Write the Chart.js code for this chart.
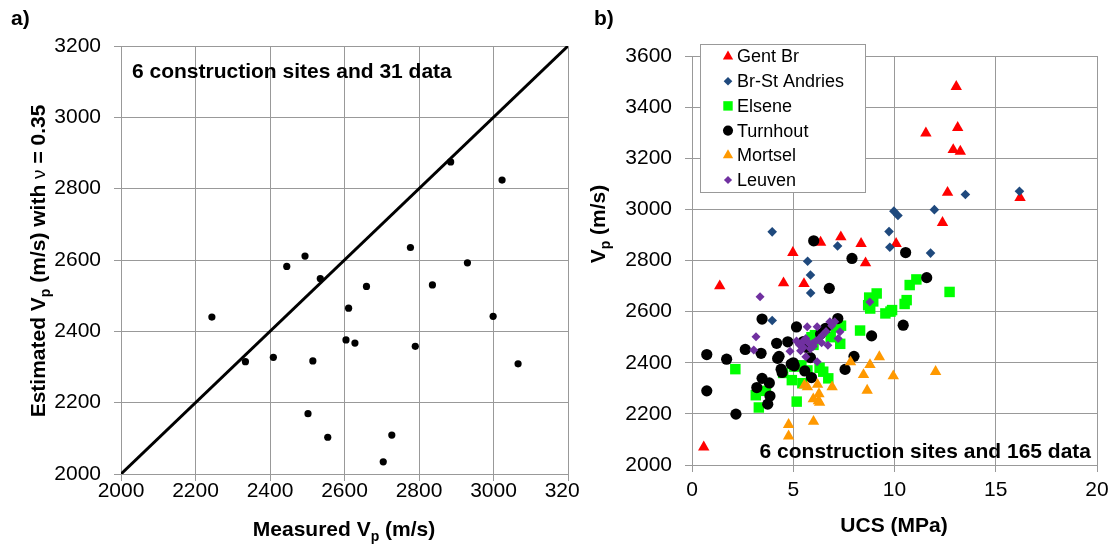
<!DOCTYPE html>
<html>
<head>
<meta charset="utf-8">
<script src="https://cdn.jsdelivr.net/npm/chart.js@4.4.1/dist/chart.umd.min.js"></script>
<style>
  html, body { margin: 0; padding: 0; background: #fff; }
  #wrap { position: relative; width: 1117px; height: 544px; overflow: hidden; }
  #boxA { position: absolute; left: 0; top: 0; width: 580px; height: 544px; overflow: hidden; }
  #boxB { position: absolute; left: 580px; top: 0; width: 537px; height: 544px; }
</style>
</head>
<body>
<div id="wrap">
  <div id="boxA"><canvas id="chartA" width="620" height="544"></canvas></div>
  <div id="boxB"><canvas id="chartB" width="537" height="544"></canvas></div>
</div>
<script>
// panel a) measured vs estimated Vp
var measuredVp  = [2244, 2334, 2409, 2445, 2494, 2535, 2502, 2515, 2555, 2604, 2611, 2628, 2659, 2704, 2727, 2777, 2790, 2836, 2885, 2930, 2999, 3023, 3066];
var estimatedVp = [2440, 2315, 2327, 2582, 2611, 2548, 2169, 2317, 2103, 2376, 2465, 2367, 2526, 2034, 2109, 2635, 2358, 2530, 2875, 2592, 2442, 2824, 2309];
var lineX = [2000, 3200];
var lineY = [2000, 3200];
var ticksA = [2000, 2200, 2400, 2600, 2800, 3000, 3200];

// panel b) UCS vs Vp per site
var siteNames = ['Gent Br', 'Br-St Andries', 'Elsene', 'Turnhout', 'Mortsel', 'Leuven'];
var gentUcs = [13.05, 11.55, 13.12, 12.9, 13.25, 12.62, 16.2, 12.37, 10.08, 8.35, 8.57, 7.35, 6.35, 4.98, 4.52, 5.53, 1.37, 0.58];
var gentVp  = [3480, 3298, 3320, 3233, 3227, 3066, 3046, 2948, 2866, 2866, 2790, 2892, 2871, 2831, 2712, 2709, 2700, 2070];
var brUcs = [16.17, 13.5, 11.97, 9.97, 10.17, 9.73, 9.77, 11.78, 7.19, 3.96, 5.71, 5.85, 5.86, 3.96];
var brVp  = [3071, 3058, 2999, 2993, 2976, 2913, 2852, 2829, 2857, 2912, 2797, 2743, 2673, 2565];
var elseneUcs = [12.72, 11.08, 10.75, 10.6, 10.5, 9.88, 9.55, 9.8, 9.12, 8.75, 8.7, 8.95, 8.8, 8.3, 7.36, 7.32, 7.1, 6.85, 6.07, 6.0, 5.9, 6.48, 6.73, 6.3, 5.7, 5.4, 5.05, 4.93, 5.17, 5.45, 4.5, 3.65, 3.3, 3.15, 2.14];
var elseneVp  = [2677, 2726, 2704, 2645, 2630, 2606, 2593, 2600, 2671, 2655, 2625, 2640, 2612, 2526, 2545, 2474, 2540, 2500, 2508, 2470, 2500, 2365, 2339, 2380, 2370, 2390, 2385, 2332, 2248, 2320, 2360, 2290, 2225, 2273, 2375];
var turnUcs = [0.73, 0.73, 1.71, 2.17, 2.63, 3.46, 3.41, 4.18, 4.73, 4.23, 4.4, 3.46, 3.2, 3.82, 3.85, 3.74, 4.3, 4.45, 5.0, 5.05, 5.16, 5.57, 5.9, 5.85, 6.01, 6.78, 7.9, 7.2, 7.56, 8.0, 8.87, 10.43, 10.55, 11.59, 5.5, 6.6, 6.35, 5.65, 4.9];
var turnVp  = [2432, 2290, 2414, 2199, 2452, 2571, 2437, 2476, 2482, 2417, 2375, 2339, 2303, 2321, 2270, 2238, 2425, 2362, 2400, 2388, 2540, 2368, 2342, 2420, 2877, 2691, 2808, 2573, 2374, 2425, 2505, 2547, 2831, 2733, 2483, 2535, 2512, 2460, 2395];
var mortUcs = [4.77, 4.77, 6.0, 5.55, 5.99, 6.24, 6.27, 6.2, 6.92, 7.83, 8.47, 8.79, 8.65, 9.25, 9.94, 12.03, 6.3, 5.7];
var mortVp  = [2113, 2158, 2170, 2312, 2258, 2251, 2278, 2315, 2305, 2403, 2353, 2392, 2292, 2423, 2348, 2365, 2245, 2305];
var leuvUcs = [3.36, 3.16, 3.05, 4.84, 5.16, 5.69, 6.18, 5.62, 6.18, 6.81, 7.05, 7.31, 7.22, 8.78, 5.45, 5.62, 5.78, 5.95, 6.12, 6.29, 6.45, 6.62, 6.71, 5.36, 5.5, 5.85, 6.0, 6.4, 5.3, 6.9];
var leuvVp  = [2658, 2502, 2450, 2445, 2485, 2541, 2541, 2423, 2404, 2560, 2560, 2521, 2495, 2638, 2481, 2495, 2475, 2475, 2485, 2495, 2509, 2522, 2468, 2447, 2460, 2455, 2465, 2478, 2470, 2545];

var FONT = "'Liberation Sans', Arial, sans-serif";
Chart.defaults.font.family = FONT;
Chart.defaults.color = '#000';
var GRID = '#999999';

function pts(xs, ys) {
    return xs.map(function (x, i) { return { x: x, y: ys[i] }; });
}

// text with a subscript part, centred on (x, y)
function drawParts(ctx, parts, x, y, size, rotate) {
    ctx.save();
    ctx.translate(x, y);
    if (rotate) ctx.rotate(-Math.PI / 2);
    function fontFor(k) {
        if (k === 'sub') return 'bold ' + Math.round(size * 0.66) + 'px ' + FONT;
        if (k === 'n') return Math.round(size * 0.9) + 'px ' + FONT;
        return 'bold ' + size + 'px ' + FONT;
    }
    var total = 0;
    parts.forEach(function (p) { ctx.font = fontFor(p[1]); total += ctx.measureText(p[0]).width; });
    var cx = -total / 2;
    var base = size * 0.36;
    ctx.textAlign = 'left';
    ctx.textBaseline = 'alphabetic';
    ctx.fillStyle = '#000';
    parts.forEach(function (p) {
        ctx.font = fontFor(p[1]);
        ctx.fillText(p[0], cx, p[1] === 'sub' ? base + size * 0.25 : base);
        cx += ctx.measureText(p[0]).width;
    });
    ctx.restore();
}

function label(ctx, text, x, y, align) {
    ctx.save();
    ctx.font = 'bold 21px ' + FONT;
    ctx.fillStyle = '#000';
    ctx.textAlign = align;
    ctx.textBaseline = 'middle';
    ctx.fillText(text, x, y);
    ctx.restore();
}

function axisOpts(min, max, step, fit, pad, isY) {
    return {
        type: 'linear', min: min, max: max,
        afterFit: function (s) { if (isY) s.width = fit; else s.height = fit; },
        ticks: {
            stepSize: step, font: { size: 21 }, color: '#000', padding: pad,
            maxRotation: 0, autoSkip: false,
            callback: function (v) { return String(v); }
        },
        grid: { display: true, drawOnChartArea: true, color: GRID, lineWidth: 1, tickLength: 7, drawTicks: true },
        border: { display: true, color: GRID, width: 1 }
    };
}

// grid lines and outside tick marks at every scale tick
var gridLines = {
    id: 'gridLines',
    beforeDatasetsDraw: function (chart) {
        var ctx = chart.ctx, a = chart.chartArea;
        var sx = chart.scales.x, sy = chart.scales.y;
        ctx.save();
        ctx.strokeStyle = GRID;
        ctx.lineWidth = 1;
        ctx.beginPath();
        sx.ticks.forEach(function (t) {
            var px = Math.round(sx.getPixelForValue(t.value) - 0.5) + 0.5;
            ctx.moveTo(px, a.top);
            ctx.lineTo(px, a.bottom + 7);
        });
        sy.ticks.forEach(function (t) {
            var py = Math.round(sy.getPixelForValue(t.value) - 0.5) + 0.5;
            ctx.moveTo(a.left - 7, py);
            ctx.lineTo(a.right, py);
        });
        ctx.stroke();
        ctx.restore();
    }
};

var textsA = {
    id: 'textsA',
    afterDraw: function (chart) {
        var ctx = chart.ctx;
        label(ctx, 'a)', 11, 19, 'left');
        label(ctx, '6 construction sites and 31 data', 132, 72, 'left');
        drawParts(ctx, [['Measured V', 'b'], ['p', 'sub'], [' (m/s)', 'b']], 344, 528, 21, false);
        drawParts(ctx, [['Estimated V', 'b'], ['p', 'sub'], [' (m/s) with ', 'b'], ['\u03bd', 'n'], [' = 0.35', 'b']], 37, 261, 21, true);
    }
};

new Chart(document.getElementById('chartA'), {
    type: 'scatter',
    data: {
        datasets: [{
            data: pts(lineX, lineY),
            showLine: true, pointRadius: 0, borderColor: '#000', borderWidth: 3
        }, {
            data: pts(measuredVp, estimatedVp),
            pointStyle: 'circle', pointRadius: 3.6, pointBorderWidth: 0,
            backgroundColor: '#000', borderColor: '#000'
        }]
    },
    options: {
        responsive: false, animation: false, devicePixelRatio: 1,
        layout: { padding: { left: 0, top: 46, right: 52, bottom: 0 } },
        plugins: { legend: { display: false }, tooltip: { enabled: false } },
        scales: {
            x: axisOpts(ticksA[0], ticksA[ticksA.length - 1], 200, 70, -2, false),
            y: axisOpts(ticksA[0], ticksA[ticksA.length - 1], 200, 121, 13, true)
        }
    },
    plugins: [gridLines, textsA]
});

var legendBox = {
    id: 'legendBox',
    afterDraw: function (chart) {
        var ctx = chart.ctx;
        ctx.save();
        ctx.fillStyle = '#fff';
        ctx.fillRect(121, 45, 164, 147);
        ctx.strokeStyle = GRID;
        ctx.lineWidth = 1;
        ctx.strokeRect(120.5, 44.5, 165, 148);
        ctx.font = '18px ' + FONT;
        ctx.textAlign = 'left';
        ctx.textBaseline = 'middle';
        chart.data.datasets.forEach(function (ds, i) {
            var y = 56.5 + i * 24.7;
            ctx.fillStyle = ds.backgroundColor;
            Chart.helpers.drawPoint(ctx, { pointStyle: ds.pointStyle, radius: ds.pointRadius * 0.9, rotation: 0, borderWidth: 0 }, 148, y);
            ctx.fillStyle = '#000';
            ctx.fillText(ds.label, 157, y + 1);
        });
        ctx.restore();
        label(ctx, 'b)', 14, 19, 'left');
        label(ctx, '6 construction sites and 165 data', 511, 452.5, 'right');
        drawParts(ctx, [['UCS (MPa)', 'b']], 314, 524, 21, false);
        drawParts(ctx, [['V', 'b'], ['p', 'sub'], [' (m/s)', 'b']], 17, 224, 21, true);
    }
};

var siteX = [gentUcs, brUcs, elseneUcs, turnUcs, mortUcs, leuvUcs];
var siteY = [gentVp, brVp, elseneVp, turnVp, mortVp, leuvVp];
var siteColors = ['#ff0000', '#1f497d', '#00ff00', '#000000', '#ff9900', '#7030a0'];
var siteStyles = ['triangle', 'rectRot', 'rect', 'circle', 'triangle', 'rectRot'];
var siteRadius = [6.6, 4.8, 7.4, 5.6, 6.6, 4.5];

new Chart(document.getElementById('chartB'), {
    type: 'scatter',
    data: {
        datasets: siteNames.map(function (name, i) {
            return {
                label: name,
                data: pts(siteX[i], siteY[i]),
                pointStyle: siteStyles[i],
                pointRadius: siteRadius[i],
                pointBorderWidth: 0,
                backgroundColor: siteColors[i],
                borderColor: siteColors[i],
                order: siteNames.length - 1 - i
            };
        })
    },
    options: {
        responsive: false, animation: false, devicePixelRatio: 1,
        layout: { padding: { left: 0, top: 56, right: 20, bottom: 0 } },
        plugins: { legend: { display: false }, tooltip: { enabled: false } },
        scales: {
            x: axisOpts(0, 20, 5, 79, 6, false),
            y: axisOpts(2000, 3600, 200, 112, 13, true)
        }
    },
    plugins: [gridLines, legendBox]
});
</script>
</body>
</html>
